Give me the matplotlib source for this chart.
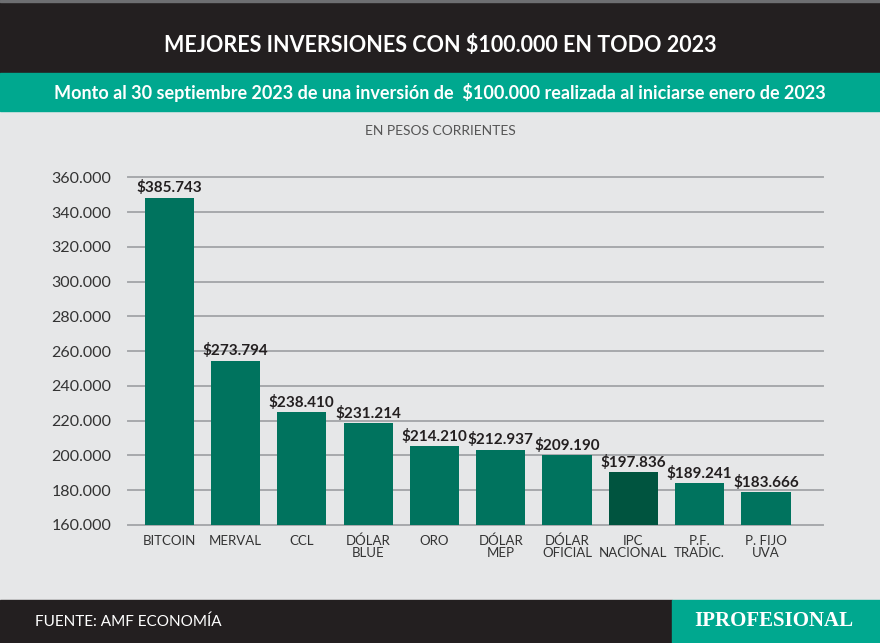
import matplotlib
matplotlib.use('Agg')
import matplotlib.pyplot as plt
from matplotlib.patches import Rectangle
from matplotlib.ticker import FuncFormatter

# Data (bar heights as drawn, labels as printed)
categorias = ['BITCOIN', 'MERVAL', 'CCL', 'DÓLAR\nBLUE', 'ORO', 'DÓLAR\nMEP',
              'DÓLAR\nOFICIAL', 'IPC\nNACIONAL', 'P.F.\nTRADIC.', 'P. FIJO\nUVA']
alturas = [348300, 254500, 224800, 218500, 205200, 203400, 200000, 190200, 183900, 178700]
etiquetas = ['$385.743', '$273.794', '$238.410', '$231.214', '$214.210', '$212.937',
             '$209.190', '$197.836', '$189.241', '$183.666']
ticks_y = [160000, 180000, 200000, 220000, 240000, 260000, 280000, 300000, 320000, 340000, 360000]

FONDO = '#e6e7e8'
OSCURO = '#231f20'
TEAL = '#00a88f'
VERDE = '#00735e'
VERDE_OSC = '#00543f'
SANS = ['Lato', 'DejaVu Sans']

W, H = 880, 643
fig = plt.figure(figsize=(W / 100, H / 100), dpi=100)
fig.patch.set_facecolor(FONDO)

def px_rect(x0, y0, x1, y1, color):
    fig.patches.append(Rectangle((x0 / W, 1 - y1 / H), (x1 - x0) / W, (y1 - y0) / H,
                                 transform=fig.transFigure, color=color, zorder=0))

# header bands
px_rect(0, 0, W, 73, OSCURO)
px_rect(0, 0, W, 2, '#6d6e71')
px_rect(0, 73, W, 111, TEAL)
# footer
px_rect(0, 600, 672, H, OSCURO)
px_rect(672, 600, W, H, TEAL)

fig.text(0.5, 1 - 46 / H, 'MEJORES INVERSIONES CON $100.000 EN TODO 2023', color='white',
         fontsize=15.5, fontweight='bold', family=SANS, ha='center', va='center')
fig.text(0.5, 1 - 92 / H, 'Monto al 30 septiembre 2023 de una inversión de  $100.000 realizada al iniciarse enero de 2023',
         color='white', fontsize=13, fontweight='bold', family=SANS, ha='center', va='center')
fig.text(0.5, 1 - 131 / H, 'EN PESOS CORRIENTES', color='#555555', fontsize=10,
         family=SANS, ha='center', va='center')
fig.text(35 / W, 1 - 622 / H, 'FUENTE: AMF ECONOMÍA', color='white', fontsize=11,
         family=SANS, ha='left', va='center')
fig.text(774 / W, 1 - 621 / H, 'IPROFESIONAL', color='white', fontsize=15,
         family=['Liberation Serif', 'DejaVu Serif'], fontweight='bold', ha='center', va='center')

ax = fig.add_axes([128 / W, 1 - 525 / H, 695 / W, 347.7 / H])
ax.set_facecolor('none')
x = list(range(len(categorias)))
colores = [VERDE] * len(categorias)
colores[7] = VERDE_OSC
barras = ax.bar(x, [a - 160000 for a in alturas], bottom=160000, width=0.74,
                color=colores, zorder=3)

for b, txt in zip(barras, etiquetas):
    ax.annotate(txt, (b.get_x() + b.get_width() / 2, b.get_y() + b.get_height()),
                xytext=(0, 2), textcoords='offset points', ha='center', va='bottom',
                fontsize=11, fontweight='bold', family=SANS, color=OSCURO, zorder=4)

ax.set_xlim(-0.62, 9.86)
ax.set_ylim(160000, 360000)
ax.set_yticks(ticks_y)
ax.yaxis.set_major_formatter(FuncFormatter(lambda v, p: f'{int(v):,}'.replace(',', '.')))
ax.set_xticks(x)
ax.set_xticklabels(categorias, linespacing=1.0)
for lab in ax.get_xticklabels():
    lab.set_family(SANS)
    lab.set_fontsize(9.5)
    lab.set_color('#333333')
for lab in ax.get_yticklabels():
    lab.set_family(SANS)
    lab.set_fontsize(11.5)
    lab.set_color('#333333')
ax.tick_params(axis='both', length=0)
ax.tick_params(axis='y', pad=12)
ax.tick_params(axis='x', pad=7)
for v in ticks_y:
    ax.axhline(v, color='#a7a9ac', linewidth=1.4, zorder=1, clip_on=False)
for s in ax.spines.values():
    s.set_visible(False)

fig.savefig('out.png', dpi=100, facecolor=fig.get_facecolor())
